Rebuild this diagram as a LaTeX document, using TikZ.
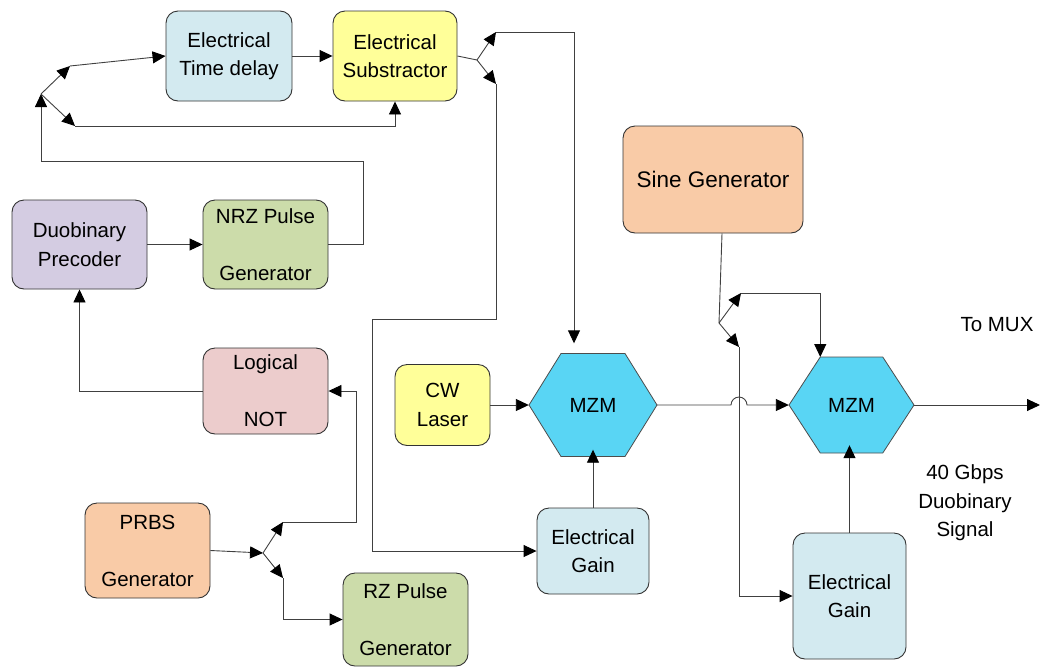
\documentclass[tikz,border=0pt]{standalone}
\usepackage{fontspec}
\setmainfont{Liberation Sans}
\usetikzlibrary{arrows.meta,calc}

\definecolor{cBlue}{HTML}{D3EAF0}
\definecolor{cYellow}{HTML}{FFFF99}
\definecolor{cPurple}{HTML}{D4CCE2}
\definecolor{cGreen}{HTML}{CCDCAA}
\definecolor{cPink}{HTML}{ECCCCC}
\definecolor{cPeach}{HTML}{F9CBA7}
\definecolor{cCyan}{HTML}{59D5F4}

% hexagon: centre x, centre y, half width, half height
\newcommand\mzmhexagon[4]{%
  \filldraw[fill=cCyan, draw=black!70, line width=0.8pt]
    (#1-#3,#2) -- (#1-#3/2,#2-#4) -- (#1+#3/2,#2-#4) -- (#1+#3,#2)
    -- (#1+#3/2,#2+#4) -- (#1-#3/2,#2+#4) -- cycle;}

\begin{document}
\begin{tikzpicture}[x=1pt,y=-1pt,
  txt/.style={font=\fontsize{20.5}{28.5}\selectfont},
  block/.style={txt, draw=black!80, line width=0.9pt, rounded corners=12pt,
    align=center, inner sep=0pt},
  hexlabel/.style={txt, inner sep=0pt},
  wire/.style={draw=black!75, line width=0.9pt},
  arr/.style={wire, -{Triangle[length=13pt,width=12pt,black]}},
  lbl/.style={txt, align=center, inner sep=0pt}
]
\useasboundingbox (0,0) rectangle (1040,667);

% blocks
\node[block, fill=cBlue, minimum width=126pt, minimum height=90pt] (td) at (229,56) {Electrical\\Time delay};
\node[block, fill=cYellow, minimum width=124pt, minimum height=90pt] (sub) at (395,56) {Electrical\\Substractor};
\node[block, fill=cPurple, minimum width=135pt, minimum height=89pt] (duo) at (79.5,244.5) {Duobinary\\Precoder};
\node[block, fill=cGreen, minimum width=125pt, minimum height=89pt] (nrz) at (265.5,244.5) {NRZ Pulse\\[28.5pt]Generator};
\node[block, fill=cPink, minimum width=125pt, minimum height=86pt] (lnot) at (265.5,391) {Logical\\[28.5pt]NOT};
\node[block, fill=cPeach, minimum width=125pt, minimum height=95pt] (prbs) at (147.5,550.5) {PRBS\\[28.5pt]Generator};
\node[block, fill=cGreen, minimum width=125pt, minimum height=93pt] (rz) at (405.5,619.5) {RZ Pulse\\[28.5pt]Generator};
\node[block, fill=cYellow, minimum width=95pt, minimum height=81pt] (cw) at (442.5,405) {CW\\Laser};
\node[block, fill=cPeach, minimum width=180pt, minimum height=107pt, font=\fontsize{22.5}{28.5}\selectfont] (sine) at (713,179.5) {Sine Generator};
\node[block, fill=cBlue, minimum width=112pt, minimum height=86pt] (gainA) at (593,551) {Electrical\\Gain};
\node[block, fill=cBlue, minimum width=113pt, minimum height=126pt] (gainB) at (849.5,596) {Electrical\\Gain};

% modulators
\mzmhexagon{593}{405}{64}{51.5}
\mzmhexagon{851.5}{405}{62.5}{48}
\node[hexlabel, minimum width=128pt, minimum height=103pt] (mzmA) at (593,405) {MZM};
\node[hexlabel, minimum width=125pt, minimum height=96pt] (mzmB) at (851.5,405) {MZM};
\coordinate (mzmBtl) at (820.25,357);

% labels
\node[lbl] (mux) at (997,325) {To MUX};
\node[lbl] (rate) at (965,503) {40 Gbps\\Duobinary\\Signal};

% NRZ branch and delay/subtract stage
\coordinate (forkL) at (41,94);
\coordinate (forkLup) at (70,66);
\coordinate (forkLdn) at (75,126);
\coordinate (turnN) at (363,161);
\draw[arr] (nrz.east) -| (turnN) -| (forkL);
\draw[arr] (forkL) -- (forkLup);
\draw[arr] (forkLup) -- (td.west);
\draw[arr] (forkL) -- (forkLdn);
\draw[arr] (forkLdn) -| (sub.south);
\draw[arr] (td.east) -- (sub.west);

% subtractor output split
\coordinate (forkR) at (477,60);
\coordinate (forkRup) at (496,32);
\coordinate (forkRdn) at (496,84);
\coordinate (topR) at (574,32);
\coordinate (midR) at (496,319);
\coordinate (midL) at (372,319);
\draw[wire] (sub.east) -- (forkR);
\draw[arr] (forkR) -- (forkRup);
\draw[arr] (forkR) -- (forkRdn);
\draw[arr, shorten >=10pt] (forkRup) -- (topR) -- (topR |- mzmA.north);
\draw[arr] (forkRdn) -- (midR) -- (midL) |- (gainA.west);

% PRBS split
\coordinate (forkP) at (263,553);
\coordinate (forkPup) at (283,522);
\coordinate (forkPdn) at (283,578);
\coordinate (turnP) at (356,522);
\draw[arr] (prbs.east) -- (forkP);
\draw[arr] (forkP) -- (forkPup);
\draw[arr] (forkP) -- (forkPdn);
\draw[arr] (forkPup) -- (turnP) |- (lnot.east);
\draw[arr] (forkPdn) |- (rz.west);
\draw[arr] (lnot.west) -| (duo.south);
\draw[arr] (duo.east) -- (nrz.west);

% optical path
\draw[arr] (cw.east) -- (mzmA.west);
\draw[arr] (mzmA.east) -- (731,405) arc[start angle=180, end angle=360, radius=8] -- (mzmB.west);
\coordinate (out) at (1040,405);
\draw[arr] (mzmB.east) -- (out);

% sine generator split
\coordinate (forkS) at (719,323);
\coordinate (forkSup) at (741,293);
\coordinate (forkSdn) at (739,347);
\draw[wire] ([xshift=9pt]sine.south) -- (forkS);
\draw[arr] (forkS) -- (forkSup);
\draw[arr] (forkS) -- (forkSdn);
\draw[arr] (forkSup) -| (mzmBtl);
\draw[arr] (forkSdn) |- (gainB.west);

% gain stages into modulators
\draw[arr, shorten >=-7pt] (gainA.north) -- (mzmA.south);
\draw[arr, shorten >=-8pt] (gainB.north) -- (gainB.north |- mzmB.south);
\end{tikzpicture}
\end{document}
